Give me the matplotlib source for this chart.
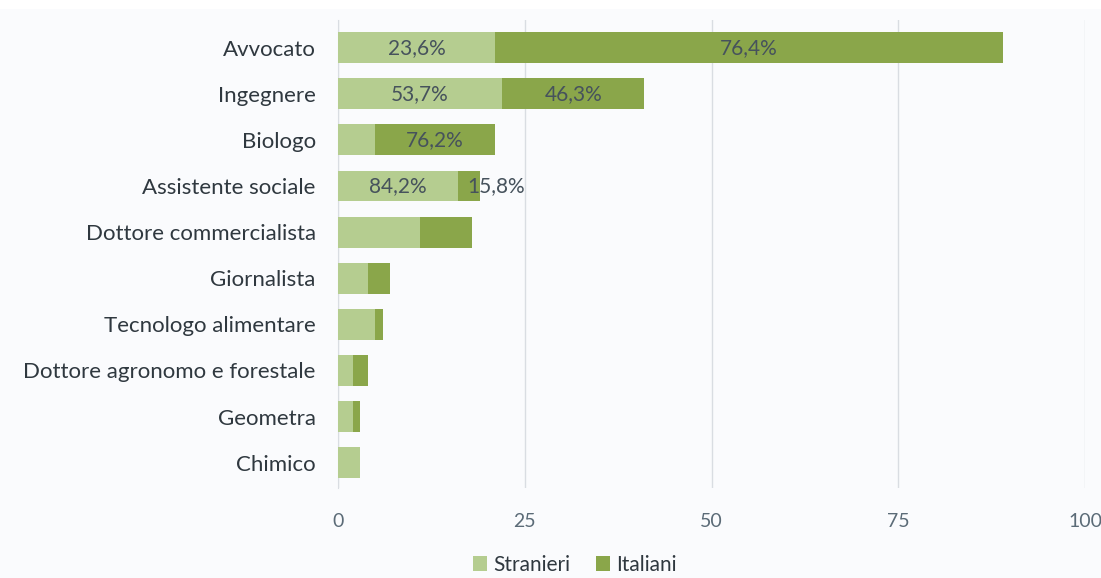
import matplotlib
matplotlib.use("Agg")
import matplotlib.pyplot as plt
from matplotlib.patches import Rectangle

# professioni, dall'alto verso il basso
professioni = ["Avvocato", "Ingegnere", "Biologo", "Assistente sociale",
               "Dottore commercialista", "Giornalista", "Tecnologo alimentare",
               "Dottore agronomo e forestale", "Geometra", "Chimico"]
stranieri = [21, 22, 5, 16, 11, 4, 5, 2, 2, 3]
italiani = [68, 19, 16, 3, 7, 3, 1, 2, 1, 0]

# etichette percentuali mostrate (riga, serie)
etichette_stranieri = [0, 1, 3]
etichette_italiani = [0, 1, 2, 3]

c_chiaro = "#b5cd90"
c_scuro = "#8aa64a"
c_testo = "#46525c"
c_tick = "#5b6b77"
sfondo = "#fafbfd"

plt.rcParams["font.family"] = ["Lato", "DejaVu Sans"]

fig = plt.figure(figsize=(11.01, 5.78), dpi=100, facecolor=sfondo)
# striscia bianca in alto
fig.patches.append(Rectangle((0, 1 - 9 / 578), 1, 9 / 578, transform=fig.transFigure,
                             facecolor="white", edgecolor="none", zorder=0))
ax = fig.add_axes([338 / 1101, 90 / 578, 747 / 1101, 468 / 578])
ax.set_facecolor(sfondo)

y = list(range(len(professioni)))
ax.barh(y, stranieri, height=0.67, color=c_chiaro, label="Stranieri", zorder=3)
ax.barh(y, italiani, left=stranieri, height=0.67, color=c_scuro, label="Italiani", zorder=3)


def perc(v, tot):
    return f"{100 * v / tot:.1f}%".replace(".", ",")


for i in etichette_stranieri:
    tot = stranieri[i] + italiani[i]
    ax.text(stranieri[i] / 2, i, perc(stranieri[i], tot), ha="center", va="center",
            fontsize=15, color=c_testo, zorder=4)
for i in etichette_italiani:
    tot = stranieri[i] + italiani[i]
    xc = stranieri[i] + italiani[i] / 2
    if italiani[i] < 5:
        xc = stranieri[i] + italiani[i] + 2.2
    ax.text(xc, i, perc(italiani[i], tot), ha="center", va="center",
            fontsize=15, color=c_testo, zorder=4)

ax.set_xlim(0, 100)
ax.set_ylim(9.55, -0.6)
ax.set_xticks([0, 25, 50, 75, 100])
ax.set_yticks(y)
ax.set_yticklabels(professioni, fontsize=16, color="#2f383f")
ax.tick_params(axis="x", labelsize=14, colors=c_tick, length=0, pad=18)
ax.tick_params(axis="y", length=0, pad=16)
ax.grid(axis="x", color="#d9dde2", linewidth=1, zorder=0)
for s in ["top", "right", "bottom"]:
    ax.spines[s].set_visible(False)
ax.spines["left"].set_color("#d9dde2")

ax.legend(loc="center", bbox_to_anchor=(575 / 1101, 13 / 578), bbox_transform=fig.transFigure,
          ncol=2, frameon=False, fontsize=15, handlelength=0.7, handleheight=0.7,
          handletextpad=0.3, columnspacing=1.2, labelcolor="#2f383f")

fig.savefig("out.png", dpi=100, facecolor=sfondo)
